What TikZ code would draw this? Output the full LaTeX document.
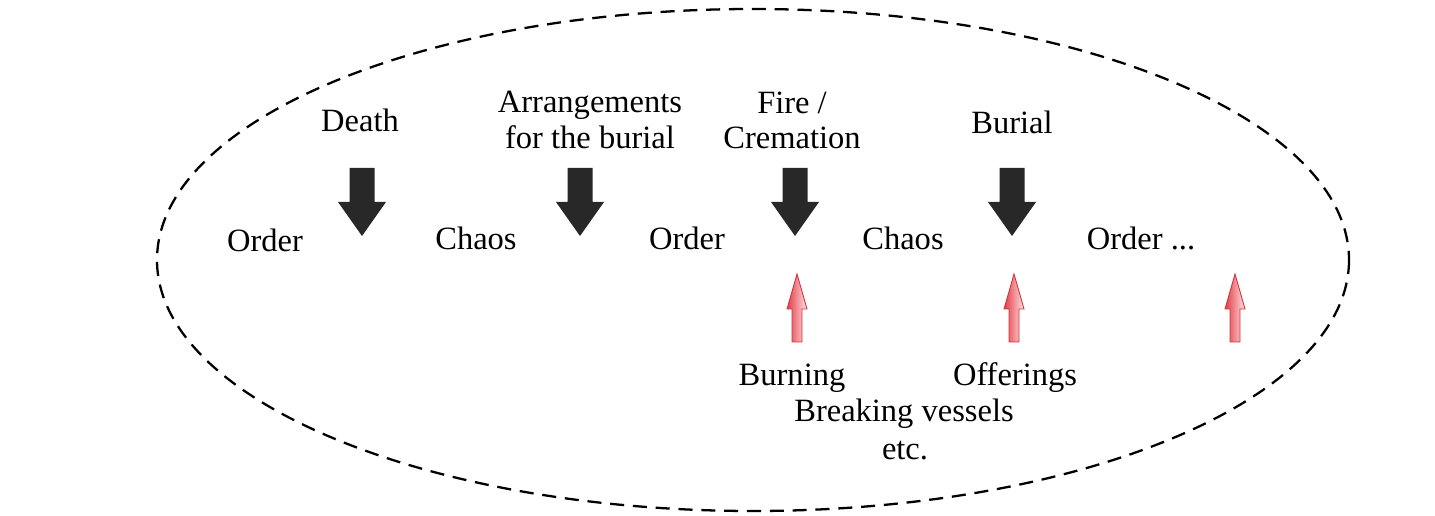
\documentclass[tikz,border=0pt]{standalone}
\usepackage{fontspec}
\setmainfont{Liberation Serif}
\usetikzlibrary{positioning}
\definecolor{ritualDark}{RGB}{40,40,40}
\definecolor{ritualRed}{RGB}{230,60,70}

\begin{document}
\begin{tikzpicture}[
  x=0.02cm, y=-0.02cm,
  every node/.style={align=center, font=\fontsize{18.5}{20}\selectfont, inner sep=0pt},
  cycleline/.style={draw=black, line width=1.3pt, dash pattern=on 8pt off 5pt},
  phase/.style={anchor=center},
  event/.style={anchor=center},
  rite/.style={anchor=center},
  darrow/.pic={\fill[ritualDark] (-12.5,0) -- (12.5,0) -- (12.5,34) -- (24,34) -- (0,68) -- (-24,34) -- (-12.5,34) -- cycle;},
  rarrow/.pic={\shade[left color=ritualRed, right color=ritualRed!15, draw=ritualRed!90!black, line width=0.5pt]
    (0,0) -- (10,35) -- (5,35) -- (5,68) -- (-5,68) -- (-5,35) -- (-10,35) -- cycle;}
]
\useasboundingbox (0,0) rectangle (1435,516);

% - the cycle -
\draw[cycleline] (753,260) ellipse [x radius=596, y radius=251];

% - states -
\node[phase] (order1) at (265,240) {Order};
\node[phase] (chaos1) at (476,238) {Chaos};
\node[phase] (order2) at (687,238) {Order};
\node[phase] (chaos2) at (903,238) {Chaos};
\node[phase] (order3) at (1141,238) {Order ...};

% - events -
\node[event] (death) at (360,120) {Death};
\node[event] (arrange) at (590,120) {Arrangements\\for the burial};
\node[event] (fire) at (792,120) {Fire /\\Cremation};
\node[event] (burial) at (1012,122) {Burial};

% - rites -
\node[rite] (burning) at (792,378) {Burning};
\node[rite] (offerings) at (1015,378) {Offerings};
\node[rite] (breaking) at (904,414) {Breaking vessels};
\node[rite] (etc) at (905,451) {etc.};

% - arrows -
\pic at (362,168) {darrow};
\pic at (580,168) {darrow};
\pic at (795,168) {darrow};
\pic at (1012,168) {darrow};

\pic at (797,274) {rarrow};
\pic at (1014,274) {rarrow};
\pic at (1235,274) {rarrow};

\end{tikzpicture}
\end{document}
